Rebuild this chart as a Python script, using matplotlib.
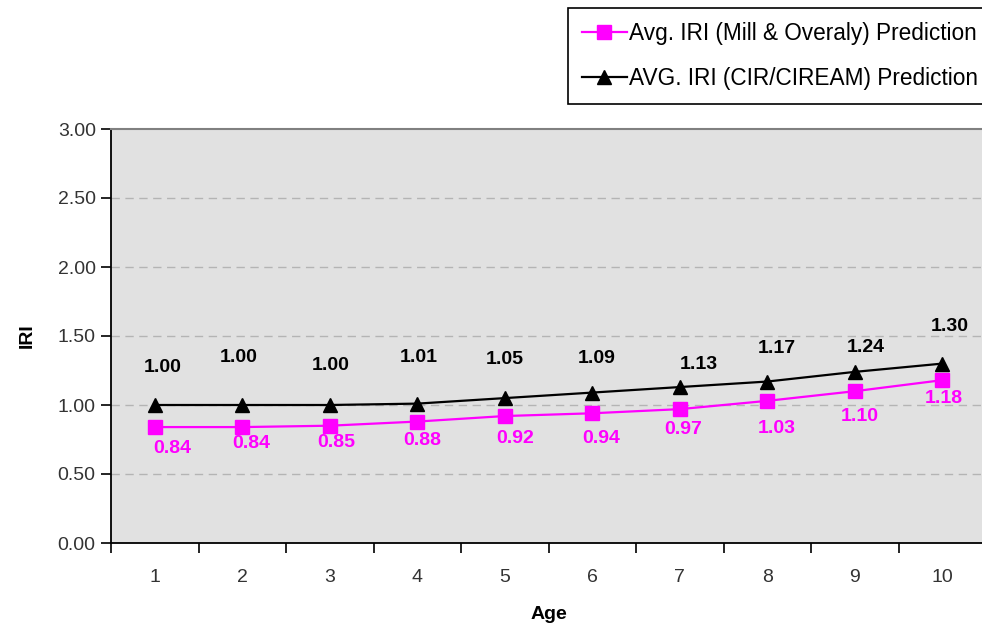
import matplotlib
matplotlib.use("Agg")
import matplotlib.pyplot as plt
import numpy as np

ages = [1, 2, 3, 4, 5, 6, 7, 8, 9, 10]
mill_overlay = [0.84, 0.84, 0.85, 0.88, 0.92, 0.94, 0.97, 1.03, 1.10, 1.18]
cir_ciream = [1.00, 1.00, 1.00, 1.01, 1.05, 1.09, 1.13, 1.17, 1.24, 1.30]
yticks = [0.0, 0.5, 1.0, 1.5, 2.0, 2.5, 3.0]

# label offsets (pixels) as placed in the original
black_off = [(8, 37), (-4, 47), (1, 40), (1, 46), (0, 39), (4, 34), (19, 23), (10, 33), (11, 24), (7, 37)]
pink_off = [(17, -21), (9, -16), (6, -17), (5, -19), (10, -22), (9, -25), (3, -20), (9, -28), (5, -25), (2, -18)]

plt.rcParams['font.family'] = ['Liberation Sans', 'DejaVu Sans']

fig = plt.figure(figsize=(9.82, 6.23), dpi=100)
ax = fig.add_axes([111/982, 1-543/623, 875/982, (543-129)/623])
ax.set_facecolor('#e1e1e1')
ax.set_xlim(0.5, 10.5)
ax.set_ylim(0, 3)

for y in yticks[1:-1]:
    ax.axhline(y, color='#b4b4b4', lw=1, ls=(0, (6, 4)), zorder=1)

pink = '#ff00ff'
ax.plot(ages, mill_overlay, color=pink, lw=1.6, marker='s', ms=10, mec=pink, mfc=pink,
        label='Avg. IRI (Mill & Overaly) Prediction', zorder=3)
ax.plot(ages, cir_ciream, color='black', lw=1.6, marker='^', ms=10, mec='black', mfc='black',
        label='AVG. IRI (CIR/CIREAM) Prediction', zorder=4)

for x, v, (dx, dy) in zip(ages, cir_ciream, black_off):
    ax.annotate(f'{v:.2f}', (x, v), xytext=(dx, dy), textcoords='offset pixels',
                ha='center', va='center', fontsize=14, fontweight='bold', color='black')
for x, v, (dx, dy) in zip(ages, mill_overlay, pink_off):
    ax.annotate(f'{v:.2f}', (x, v), xytext=(dx, dy), textcoords='offset pixels',
                ha='center', va='center', fontsize=14, fontweight='bold', color=pink)

ax.set_yticks(yticks)
ax.set_yticklabels([f'{t:.2f}' for t in yticks])
ax.set_xticks(ages)
ax.set_xticks(np.arange(0.5, 11, 1), minor=True)
ax.tick_params(axis='x', which='major', length=0, pad=19, labelsize=14, labelcolor='#333333')
ax.tick_params(axis='x', which='minor', length=7, width=1.2, color='black', direction='out')
ax.tick_params(axis='y', length=7, width=1.2, color='black', direction='out', pad=4,
               labelsize=14, labelcolor='#333333')

ax.spines['left'].set_color('black')
ax.spines['left'].set_linewidth(1.3)
ax.spines['bottom'].set_color('black')
ax.spines['bottom'].set_linewidth(1.3)
ax.spines['top'].set_color('#808080')
ax.spines['top'].set_linewidth(1.5)
ax.spines['right'].set_visible(False)

ax.set_ylabel('IRI', fontsize=14, fontweight='bold', labelpad=16)
ax.set_xlabel('Age', fontsize=14, fontweight='bold', labelpad=14)

leg = fig.legend(loc='upper left', bbox_to_anchor=(568/982, 1-8/623), fontsize=16.3,
                 frameon=True, fancybox=False, edgecolor='black', framealpha=1,
                 labelspacing=1.0, handlelength=2.0, handletextpad=0.1, borderpad=0.6,
                 borderaxespad=0, markerscale=1.0)
leg.get_frame().set_linewidth(1.2)

fig.savefig('out.png', dpi=100)
